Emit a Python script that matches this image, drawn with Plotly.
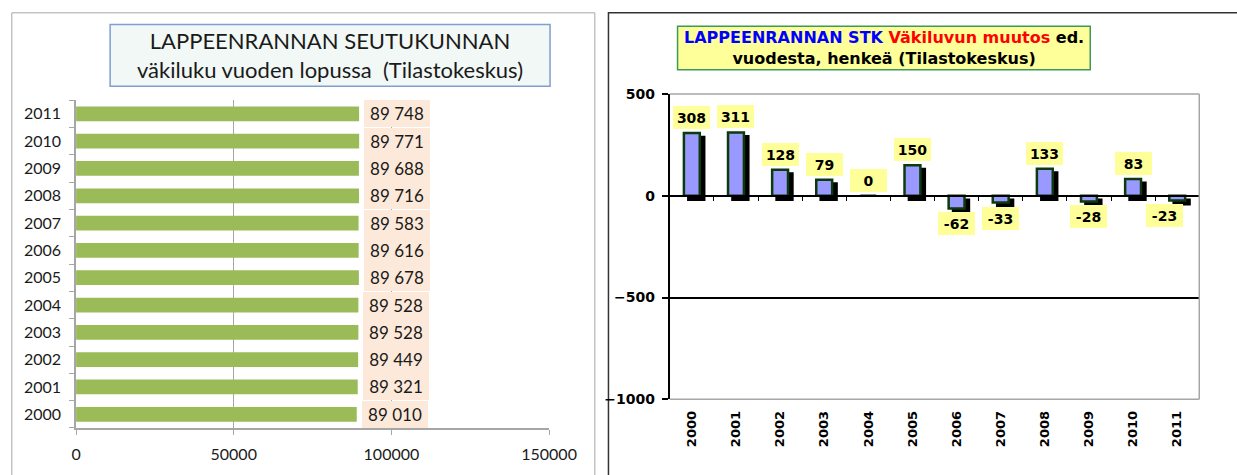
import plotly.graph_objects as go

# ---------------- data ----------------
years = ["2000", "2001", "2002", "2003", "2004", "2005",
         "2006", "2007", "2008", "2009", "2010", "2011"]
population = [89010, 89321, 89449, 89528, 89528, 89678,
              89616, 89583, 89716, 89688, 89771, 89748]
change = [308, 311, 128, 79, 0, 150, -62, -33, 133, -28, 83, -23]

left_title = "LAPPEENRANNAN SEUTUKUNNAN<br>väkiluku vuoden lopussa  (Tilastokeskus)"
right_title = ("<span style='color:#0000ff'>LAPPEENRANNAN STK</span> "
               "<span style='color:#ff0000'>Väkiluvun muutos</span> ed.<br>"
               "vuodesta, henkeä (Tilastokeskus)")

W, H = 1237, 475
def px(x):
    return x / W
def py(y):
    return 1 - y / H

# layout geometry (pixels)
L_x0, L_x1, L_y0, L_y1 = 73, 559, 95.4, 434.6
R_x0, R_x1, R_y0, R_y1 = 683, 1227, 89, 405
R_range = [-1000, 500]
cat_range = [-0.5, len(years) - 0.5]

fig = go.Figure()

# ---------- left chart: population ----------
fig.add_trace(go.Bar(
    x=population, y=years, orientation="h",
    marker=dict(color="#9bbb59", line=dict(width=0)),
    width=0.54, xaxis="x", yaxis="y", hoverinfo="x+y",
))

for i, v in enumerate(population):
    fig.add_annotation(
        x=v, y=i, xref="x", yref="y", xanchor="left", yanchor="middle",
        xshift=5, text=f"{v:,}".replace(",", " "), showarrow=False,
        bgcolor="#fde9d9", width=66, height=27, borderpad=0, borderwidth=0,
        font=dict(family="Lato", size=17, color="#1a1a1a"), align="center",
    )

# ---------- right chart: change ----------
shadow_dy = 4 / ((R_y1 - R_y0) / (R_range[1] - R_range[0]))  # 4 px in data units
bar_w = 0.36
fig.add_trace(go.Bar(
    x=years, y=[v if v != 0 else None for v in change],
    base=-shadow_dy, offset=-bar_w / 2 + 0.1, width=bar_w,
    marker=dict(color="#000000", line=dict(color="#000000", width=2.5)),
    xaxis="x2", yaxis="y2", hoverinfo="skip", showlegend=False,
))
fig.add_trace(go.Bar(
    x=years, y=change, offset=-bar_w / 2, width=bar_w,
    marker=dict(color="#9999ff", line=dict(color="#0b3a0b", width=2.5)),
    xaxis="x2", yaxis="y2", hoverinfo="x+y", showlegend=False,
))
# invisible trace to carry the zero-crossing category axis
fig.add_trace(go.Scatter(
    x=years, y=change, mode="markers", marker=dict(opacity=0),
    xaxis="x3", yaxis="y2", hoverinfo="skip", showlegend=False,
))

for i, v in enumerate(change):
    fig.add_annotation(
        x=i, y=v, xref="x2", yref="y2",
        yanchor="bottom" if v >= 0 else "top",
        yshift=4 if v >= 0 else -4,
        xshift=-13 if i == len(years) - 1 else 0,
        text=str(v), showarrow=False, bgcolor="#ffff99",
        width=37, height=23, borderpad=0, borderwidth=0,
        font=dict(family="DejaVu Sans", size=14, color="#000000", weight="bold"),
    )

dom_b, dom_t = py(R_y1), py(R_y0)
zero_pos = dom_b + (0 - R_range[0]) / (R_range[1] - R_range[0]) * (dom_t - dom_b)

grey = "#a6a6a6"
fig.update_layout(
    autosize=True, margin=dict(l=0, r=0, t=0, b=0),
    paper_bgcolor="white", plot_bgcolor="white",
    barmode="overlay", showlegend=False,
    xaxis=dict(
        domain=[px(L_x0), px(L_x1)], anchor="y", range=[0, 150000], dtick=50000,
        tickformat="d", showgrid=True, gridcolor=grey, gridwidth=1,
        showline=True, linecolor=grey, linewidth=1.5,
        ticks="outside", ticklen=5, tickcolor=grey, zeroline=False,
        tickfont=dict(family="Lato", size=16, color="#1a1a1a"),
        ticklabelstandoff=6,
    ),
    yaxis=dict(
        domain=[py(L_y1), py(L_y0)], anchor="x", type="category",
        categoryorder="array", categoryarray=years, range=cat_range,
        showline=True, linecolor=grey, linewidth=1.5,
        ticks="outside", tickson="boundaries", ticklen=5, tickcolor=grey,
        showgrid=False, tickfont=dict(family="Lato", size=16, color="#1a1a1a"),
        ticklabelstandoff=10,
    ),
    xaxis2=dict(
        domain=[px(R_x0), px(R_x1)], anchor="y2", type="category",
        categoryorder="array", categoryarray=years, range=cat_range,
        tickangle=-90, showline=False, ticks="", showgrid=False,
        tickfont=dict(family="DejaVu Sans", size=13, color="#000000", weight="bold"),
        ticklabelstandoff=8,
    ),
    yaxis2=dict(
        domain=[dom_b, dom_t], anchor="x2", range=R_range, dtick=500,
        showline=True, linecolor="#000000", linewidth=2,
        ticks="outside", ticklen=6, tickcolor="#000000", tickwidth=2,
        showgrid=True, gridcolor="#000000", gridwidth=1.5, zeroline=False,
        tickfont=dict(family="DejaVu Sans", size=14, color="#000000", weight="bold"),
        ticklabelstandoff=4,
    ),
    xaxis3=dict(
        overlaying="x2", anchor="free", position=zero_pos, type="category",
        categoryorder="array", categoryarray=years, range=cat_range,
        showline=True, linecolor="#000000", linewidth=2,
        ticks="outside", tickson="boundaries", ticklen=4, tickcolor="#000000",
        tickwidth=1, showticklabels=False, showgrid=False, zeroline=False,
    ),
)

shapes = [
    # left outer frame
    dict(type="rect", xref="paper", yref="paper", x0=px(7), x1=px(606),
         y0=-0.1, y1=py(5), line=dict(color=grey, width=1), layer="below"),
    # right outer frame
    dict(type="rect", xref="paper", yref="paper", x0=px(620), x1=1.1,
         y0=-0.1, y1=py(5), line=dict(color="#333333", width=1.5), layer="below"),
    # left title box
    dict(type="rect", xref="paper", yref="paper", x0=px(108), x1=px(560),
         y0=py(81), y1=py(17), fillcolor="#f1f8f5",
         line=dict(color="#7f9fcf", width=1.5), layer="below"),
    # right title box
    dict(type="rect", xref="paper", yref="paper", x0=px(691), x1=px(1115),
         y0=py(64), y1=py(19), fillcolor="#ffff99",
         line=dict(color="#3a9a5a", width=1.5), layer="below"),
    # right plot border (top, right, bottom)
    dict(type="line", xref="paper", yref="paper", x0=px(R_x0), x1=px(R_x1),
         y0=dom_t, y1=dom_t, line=dict(color=grey, width=1.5), layer="above"),
    dict(type="line", xref="paper", yref="paper", x0=px(R_x1), x1=px(R_x1),
         y0=dom_b, y1=dom_t, line=dict(color=grey, width=1.5), layer="above"),
    dict(type="line", xref="paper", yref="paper", x0=px(R_x0), x1=px(R_x1),
         y0=dom_b, y1=dom_b, line=dict(color=grey, width=1.5), layer="above"),
]
fig.update_layout(shapes=shapes)

fig.add_annotation(
    x=px(334), y=py(49), xref="paper", yref="paper", text=left_title,
    showarrow=False, xanchor="center", yanchor="middle", align="center",
    font=dict(family="Lato", size=22, color="#1a1a1a"),
)
fig.add_annotation(
    x=px(903), y=py(41.5), xref="paper", yref="paper", text=right_title,
    showarrow=False, xanchor="center", yanchor="middle", align="center",
    font=dict(family="DejaVu Sans", size=16, color="#000000", weight="bold"),
)

fig.write_html(
    "out.html",
    config={"displayModeBar": False},
    default_width="1237px; position:fixed; left:0; top:0",
    default_height="475px",
)
